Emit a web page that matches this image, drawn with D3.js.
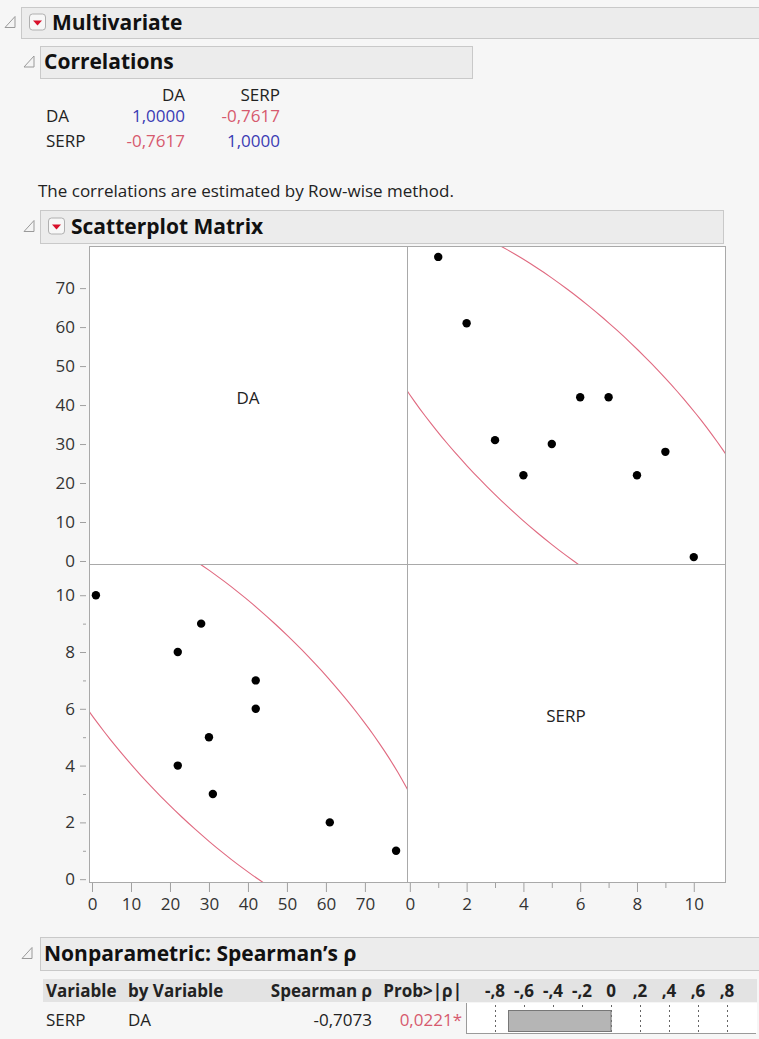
<!DOCTYPE html>
<html>
<head>
<meta charset="utf-8">
<script src="https://cdn.jsdelivr.net/npm/d3@7"></script>
<style>
  body { margin: 0; background: #f6f6f6; }
  svg { display: block; font-family: "Open Sans", "Noto Sans", sans-serif; }
</style>
</head>
<body>
<svg id="chart"></svg>
<script>
// data
const variables = ["DA", "SERP"];
const serpValues = [1, 2, 3, 4, 5, 6, 7, 8, 9, 10];
const daValues = [78, 61, 31, 22, 30, 42, 42, 22, 28, 1];
const corrMatrix = [[1.0, -0.7617], [-0.7617, 1.0]];
const daTicks = [0, 10, 20, 30, 40, 50, 60, 70];
const serpTicks = [0, 2, 4, 6, 8, 10];
const serpMinorTicks = [1, 3, 5, 7, 9];
const spearmanRows = [{variable: "SERP", byVariable: "DA", rho: -0.7073, prob: 0.0221}];
const rhoTicks = [-0.8, -0.6, -0.4, -0.2, 0, 0.2, 0.4, 0.6, 0.8];

const width = 759, height = 1039;
const fs = 17; // body text size
const comma = v => v.toFixed(4).replace(".", ",");
const shortComma = v => v === 0 ? "0" : (v < 0 ? "-" : "") + "," + Math.round(Math.abs(v) * 10);

const svg = d3.select("#chart").attr("width", width).attr("height", height);
svg.append("rect").attr("width", width).attr("height", height).attr("fill", "#f6f6f6");

// outline headers
function header(x, y, w, h, title, iconX, withButton) {
  svg.append("rect").attr("x", x + 0.5).attr("y", y + 0.5).attr("width", w).attr("height", h)
    .attr("fill", "#ececec").attr("stroke", "#c9c9c9");
  const cy = y + h / 2;
  svg.append("path")
    .attr("d", `M${iconX + 10},${cy - 6} L${iconX + 10},${cy + 5} L${iconX},${cy + 5} Z`)
    .attr("fill", "#f4f4f4").attr("stroke", "#9a9a9a");
  let tx = x + 4;
  if (withButton) {
    const bx = x + 8;
    svg.append("rect").attr("x", bx + 0.5).attr("y", cy - 8.5).attr("width", 16).attr("height", 16)
      .attr("rx", 3).attr("fill", "#f7f7f7").attr("stroke", "#b0b0b0");
    svg.append("path")
      .attr("d", `M${bx + 4},${cy - 2} L${bx + 13},${cy - 2} L${bx + 8.5},${cy + 3} Z`)
      .attr("fill", "#d8102a");
    tx = bx + 23;
  }
  svg.append("text").attr("x", tx).attr("y", cy + 7).attr("font-size", 21).attr("font-weight", 700)
    .attr("fill", "#111").text(title);
}

header(21, 7, 740, 31, "Multivariate", 5, true);
header(40, 46, 432, 32, "Correlations", 24, false);
header(40, 210, 683, 33, "Scatterplot Matrix", 24, true);
header(40, 937, 720, 33, "Nonparametric: Spearman\u2019s \u03c1", 22, false);

// correlation table
const colRight = [185, 280];
const rowBase = [122, 147];
const ct = svg.append("g").attr("font-size", fs).attr("fill", "#222");
variables.forEach((v, j) => {
  ct.append("text").attr("x", colRight[j]).attr("y", 101).attr("text-anchor", "end").text(v);
});
variables.forEach((v, i) => {
  ct.append("text").attr("x", 46).attr("y", rowBase[i]).text(v);
  corrMatrix[i].forEach((c, j) => {
    ct.append("text").attr("x", colRight[j]).attr("y", rowBase[i]).attr("text-anchor", "end")
      .attr("fill", c > 0 ? "#3b3bb4" : "#d65a6e").text(comma(c));
  });
});
svg.append("text").attr("x", 38).attr("y", 197).attr("font-size", fs).attr("fill", "#222")
  .text("The correlations are estimated by Row-wise method.");

// scatterplot matrix
const L = 89, M = 407, R = 725, T = 246, C = 564, B = 882;
const xDA = d3.scaleLinear().domain([-0.77, 80.8]).range([L, M]);
const yDA = d3.scaleLinear().domain([-0.77, 80.8]).range([C, T]);
const xSERP = d3.scaleLinear().domain([-0.1, 11.1]).range([M, R]);
const ySERP = d3.scaleLinear().domain([-0.1, 11.1]).range([B, C]);

const cells = [
  {x: L, y: T, label: "DA"},
  {x: M, y: T, xs: xSERP, ys: yDA, xv: serpValues, yv: daValues},
  {x: L, y: C, xs: xDA, ys: ySERP, xv: daValues, yv: serpValues},
  {x: M, y: C, label: "SERP"}
];

// 95% bivariate normal density ellipse
function ellipse(xv, yv) {
  const mx = d3.mean(xv), my = d3.mean(yv);
  const sx = d3.deviation(xv), sy = d3.deviation(yv);
  const r = d3.sum(xv, (v, i) => (v - mx) * (yv[i] - my)) / ((xv.length - 1) * sx * sy);
  const k = Math.sqrt(5.991);
  return d3.range(0, 361, 2).map(a => {
    const t = a * Math.PI / 180;
    return [mx + sx * k * Math.cos(t), my + sy * k * (r * Math.cos(t) + Math.sqrt(1 - r * r) * Math.sin(t))];
  });
}

cells.forEach((c, i) => {
  const g = svg.append("g");
  g.append("rect").attr("x", c.x).attr("y", c.y).attr("width", M - L).attr("height", C - T)
    .attr("fill", "#fff");
  if (c.label) {
    g.append("text").attr("x", c.x + (M - L) / 2).attr("y", c.y + (C - T) / 2 - 1)
      .attr("text-anchor", "middle").attr("font-size", fs).attr("fill", "#222").text(c.label);
    return;
  }
  svg.append("clipPath").attr("id", "clip" + i).append("rect")
    .attr("x", c.x).attr("y", c.y).attr("width", M - L).attr("height", C - T);
  const line = d3.line().x(d => c.xs(d[0])).y(d => c.ys(d[1]));
  g.append("path").attr("clip-path", `url(#clip${i})`)
    .attr("d", line(ellipse(c.xv, c.yv)))
    .attr("fill", "none").attr("stroke", "#e06a80").attr("stroke-width", 1.1);
  g.selectAll("circle").data(c.xv).join("circle")
    .attr("cx", d => c.xs(d)).attr("cy", (d, j) => c.ys(c.yv[j])).attr("r", 4.2)
    .attr("fill", "#000");
});

// cell frames
svg.append("rect").attr("x", L + 0.5).attr("y", T + 0.5).attr("width", R - L).attr("height", B - T)
  .attr("fill", "none").attr("stroke", "#a9a9a9");
svg.append("line").attr("x1", M + 0.5).attr("x2", M + 0.5).attr("y1", T).attr("y2", B).attr("stroke", "#a9a9a9");
svg.append("line").attr("x1", L).attr("x2", R).attr("y1", C + 0.5).attr("y2", C + 0.5).attr("stroke", "#a9a9a9");

function styleAxis(g) {
  g.select(".domain").remove();
  g.selectAll(".tick line").attr("stroke", "#a0a0a0");
  g.selectAll(".tick text").attr("fill", "#333").attr("font-size", 17)
    .attr("font-family", "\"Open Sans\", sans-serif");
}

// y axes
svg.append("g").attr("transform", `translate(${L - 3},0)`)
  .call(d3.axisLeft(yDA).tickValues(daTicks).tickSize(6).tickPadding(5))
  .call(styleAxis);
svg.append("g").attr("transform", `translate(${L - 3},0)`)
  .call(d3.axisLeft(ySERP).tickValues(serpTicks).tickSize(6).tickPadding(5))
  .call(styleAxis);
svg.append("g").attr("transform", `translate(${L - 3},0)`)
  .call(d3.axisLeft(ySERP).tickValues(serpMinorTicks).tickSize(3).tickFormat(""))
  .call(styleAxis);

// x axes
svg.append("g").attr("transform", `translate(0,${B + 1})`)
  .call(d3.axisBottom(xDA).tickValues(daTicks).tickSize(9).tickPadding(6))
  .call(styleAxis);
svg.append("g").attr("transform", `translate(0,${B + 1})`)
  .call(d3.axisBottom(xSERP).tickValues(serpTicks).tickSize(9).tickPadding(6))
  .call(styleAxis);
svg.append("g").attr("transform", `translate(0,${B + 1})`)
  .call(d3.axisBottom(xSERP).tickValues(serpMinorTicks).tickSize(5).tickFormat(""))
  .call(styleAxis);

// Spearman table
const xRho = d3.scaleLinear().domain([-1, 1]).range([466, 756]);
const st = svg.append("g").attr("font-size", fs).attr("fill", "#222");
st.append("rect").attr("x", 43).attr("y", 979).attr("width", 714).attr("height", 23).attr("fill", "#e3e3e3");
const heads = [
  {t: "Variable", x: 46, a: "start"},
  {t: "by Variable", x: 128, a: "start"},
  {t: "Spearman \u03c1", x: 372, a: "end"},
  {t: "Prob>|\u03c1|", x: 462, a: "end"}
];
heads.forEach(h => st.append("text").attr("x", h.x).attr("y", 997).attr("text-anchor", h.a)
  .attr("font-weight", 700).text(h.t));
st.selectAll(".rhoLab").data(rhoTicks).join("text").attr("class", "rhoLab")
  .attr("x", d => xRho(d)).attr("y", 997).attr("text-anchor", "middle").attr("font-weight", 700)
  .text(shortComma);

const cellTop = 1003, cellBot = 1033;
st.append("rect").attr("x", xRho(-1) + 1).attr("y", cellTop).attr("width", xRho(1) - xRho(-1)).attr("height", cellBot - cellTop)
  .attr("fill", "#fff");
st.append("line").attr("x1", xRho(-1) + 0.5).attr("x2", xRho(-1) + 0.5).attr("y1", cellTop).attr("y2", cellBot)
  .attr("stroke", "#9a9a9a");
st.append("line").attr("x1", xRho(-1)).attr("x2", xRho(1)).attr("y1", cellBot + 0.5).attr("y2", cellBot + 0.5)
  .attr("stroke", "#9a9a9a");
st.selectAll(".rhoGrid").data(rhoTicks).join("line").attr("class", "rhoGrid")
  .attr("x1", d => Math.round(xRho(d)) + 0.5).attr("x2", d => Math.round(xRho(d)) + 0.5)
  .attr("y1", cellTop + 2).attr("y2", cellBot)
  .attr("stroke", "#666").attr("stroke-dasharray", "2,3");

spearmanRows.forEach((row, i) => {
  const y = 1026 + i * 28;
  st.append("text").attr("x", 46).attr("y", y).text(row.variable);
  st.append("text").attr("x", 128).attr("y", y).text(row.byVariable);
  st.append("text").attr("x", 372).attr("y", y).attr("text-anchor", "end").text(comma(row.rho));
  st.append("text").attr("x", 462).attr("y", y).attr("text-anchor", "end").attr("fill", "#d65a6e")
    .text(comma(row.prob) + (row.prob < 0.05 ? "*" : ""));
  st.append("rect")
    .attr("x", Math.round(xRho(Math.min(0, row.rho))) + 0.5).attr("y", 1010.5)
    .attr("width", Math.abs(xRho(row.rho) - xRho(0))).attr("height", 21)
    .attr("fill", "#b5b5b5").attr("stroke", "#777");
});
</script>
</body>
</html>
